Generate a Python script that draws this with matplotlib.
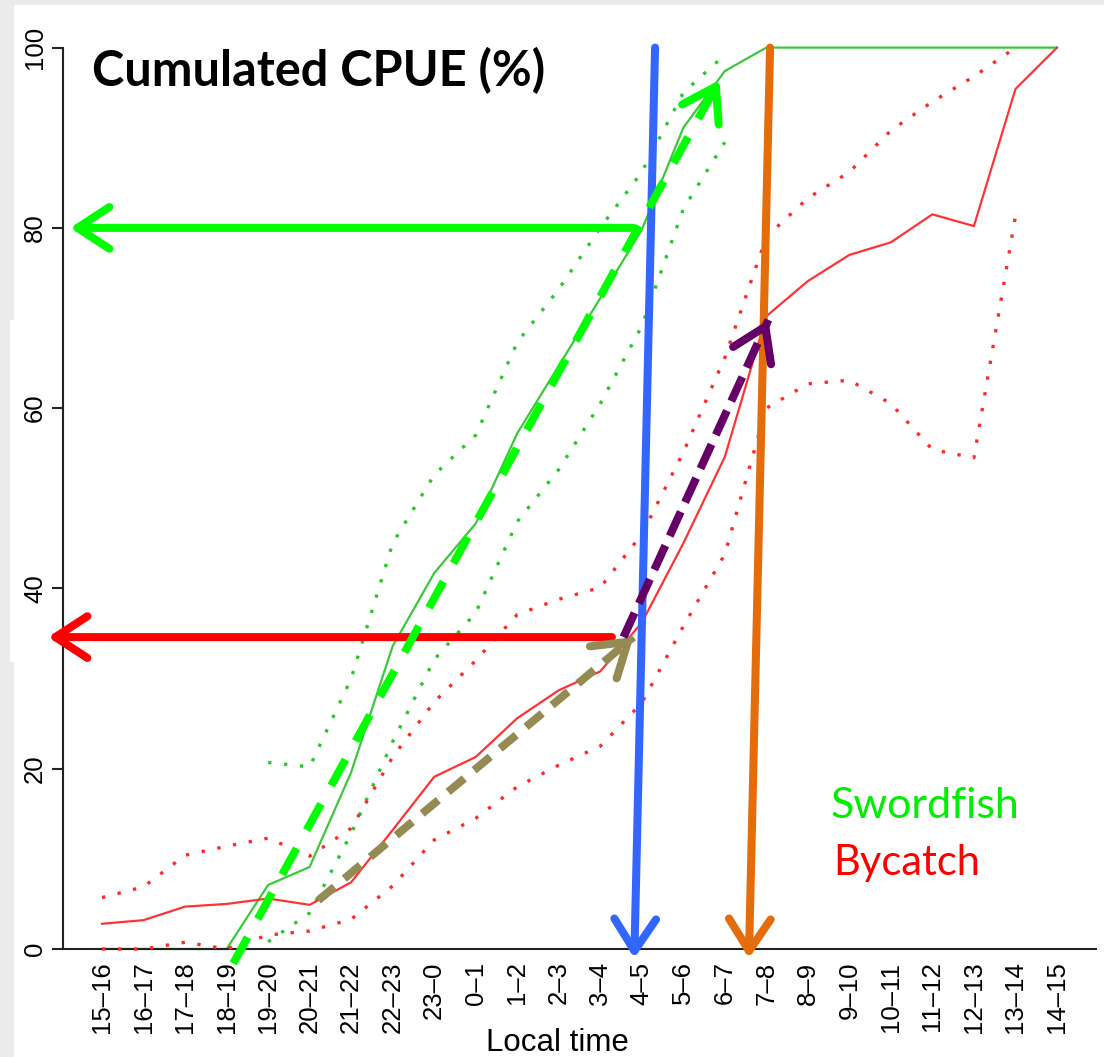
import numpy as np
import matplotlib.pyplot as plt
from matplotlib.patches import FancyArrowPatch, Rectangle

nan = np.nan

# hour classes on the x axis
time_labels = ['15–16', '16–17', '17–18', '18–19', '19–20', '20–21', '21–22', '22–23',
               '23–0', '0–1', '1–2', '2–3', '3–4', '4–5', '5–6', '6–7', '7–8', '8–9',
               '9–10', '10–11', '11–12', '12–13', '13–14', '14–15']

# cumulated CPUE (%) - swordfish, with its confidence band
swordfish = [0, 0, 0, 0, 7.1, 9.1, 19.6, 33.6, 41.7, 47.2, 57.2, 64.7, 72.2, 79.8,
             91.1, 97.4, 100, 100, 100, 100, 100, 100, 100, 100]
sword_hi = [nan, nan, nan, nan, 20.7, 20.2, 30.0, 45.0, 52.6, 57.0, 67.3, 73.2, 80.0,
            86.2, 95.0, 99.2, nan, nan, nan, nan, nan, nan, nan, nan]
sword_lo = [nan, nan, nan, nan, 0.8, 4.0, 12.8, 23.0, 32.1, 37.3, 47.4, 53.2, 60.5,
            69.1, 82.1, 89.5, nan, nan, nan, nan, nan, nan, nan, nan]

# cumulated CPUE (%) - bycatch, with its confidence band
bycatch = [2.8, 3.2, 4.7, 5.0, 5.6, 4.9, 7.4, 13.2, 19.1, 21.3, 25.6, 28.7, 30.8, 36.2,
           45.0, 54.6, 70.2, 74.1, 77.0, 78.4, 81.5, 80.2, 95.4, 100]
by_hi = [5.7, 6.9, 10.4, 11.4, 12.3, 10.3, 13.4, 21.3, 27.4, 32.0, 37.1, 38.8, 40.1, 46.0,
         55.1, 65.6, 79.0, 83.3, 86.2, 90.8, 94.0, 96.8, 100, nan]
by_lo = [0, 0, 0.75, 0, 1.55, 2.0, 3.3, 7.0, 12.1, 14.5, 18.0, 20.4, 22.5, 27.3,
         35.8, 43.8, 60.0, 62.7, 63.1, 60.5, 55.4, 54.5, 81.3, nan]

# hand drawn annotation arrows: (start, tip, colour, dashes)
arrows = [
    ((12.79, 80.0), (-0.77, 80.0), '#00FF00', None),
    ((12.28, 34.6), (-1.30, 34.6), '#FF0000', None),
    ((13.32, 100.0), (12.82, -1.03), '#3366FF', None),
    ((16.09, 100.0), (15.58, -1.03), '#E46C0A', None),
    ((3.16, -1.6), (14.87, 96.4), '#00FF00', (3.7, 2.6)),
    ((5.21, 5.4), (12.80, 34.6), '#948A54', (2.6, 1.6)),
    ((12.56, 34.6), (16.05, 69.8), '#660066', (3.3, 1.3)),
]

W, H = 1104, 1057
fig = plt.figure(figsize=(W / 100, H / 100), dpi=100, facecolor='#EBEBEB')
fig.patches.append(Rectangle((14 / W, 0), 1 - 14 / W, (H - 5) / H, transform=fig.transFigure,
                             facecolor='white', edgecolor='none', zorder=-5))
fig.patches.append(Rectangle((10 / W, (H - 662) / H), 6 / W, (662 - 320) / H,
                             transform=fig.transFigure, facecolor='white',
                             edgecolor='none', zorder=-5))

ax = fig.add_axes([63 / W, 108 / H, (1096 - 63) / W, (949 - 47.6) / H])
ax.set_facecolor('none')

x = np.arange(len(time_labels))
dots = (0, (1, 3.8))
ax.plot(x, sword_hi, color='#2BC82B', lw=2.4, linestyle=dots, zorder=2)
ax.plot(x, sword_lo, color='#2BC82B', lw=2.4, linestyle=dots, zorder=2)
ax.plot(x, by_hi, color='#FF2A2A', lw=2.4, linestyle=dots, zorder=2.6, clip_on=False)
ax.plot(x, by_lo, color='#FF2A2A', lw=2.4, linestyle=dots, zorder=2.6, clip_on=False)
ax.plot(x, bycatch, color='#FF3333', lw=1.6, zorder=3, clip_on=False)
ax.plot(x, swordfish, color='#3CC83C', lw=1.6, zorder=2.4, clip_on=False)

ax.set_xlim(-0.94, 23.94)
ax.set_ylim(0, 100)
for s in ['top', 'right']:
    ax.spines[s].set_visible(False)
for s in ['left', 'bottom']:
    ax.spines[s].set_linewidth(1.5)
    ax.spines[s].set_color('#222222')

tickfont = dict(family='Liberation Sans', size=18.5)
ax.set_xticks(x)
ax.set_xticklabels(time_labels, rotation=90, **tickfont)
ax.tick_params(axis='x', length=0, pad=9)
ax.set_yticks([0, 20, 40, 60, 80, 100])
ax.set_yticklabels(['0', '20', '40', '60', '80', '100'], rotation=90, va='center', **tickfont)
ax.tick_params(axis='y', length=8, width=1.5, pad=3.5, color='#222222')
ax.set_xlabel('Local time', family='Liberation Sans', size=22.5)
ax.xaxis.set_label_coords(0.479, -0.088)

style = '->,head_length=23,head_width=15'
for (x0, y0), (x1, y1), col, dash in arrows:
    if dash is None:
        a = FancyArrowPatch((x0, y0), (x1, y1), arrowstyle=style, mutation_scale=1,
                            lw=5.8, color=col, shrinkA=0, shrinkB=0, capstyle='round',
                            joinstyle='round', clip_on=False, zorder=5)
        ax.add_patch(a)
    else:
        ax.plot([x0, x1], [y0, y1], color=col, lw=5.8, dashes=dash,
                solid_capstyle='butt', dash_capstyle='butt', clip_on=False, zorder=6)
        px, py = x1 - 0.03 * (x1 - x0), y1 - 0.03 * (y1 - y0)
        a = FancyArrowPatch((px, py), (x1, y1), arrowstyle=style, mutation_scale=1,
                            lw=5.8, color=col, shrinkA=0, shrinkB=0, capstyle='round',
                            joinstyle='round', clip_on=False, zorder=6)
        ax.add_patch(a)

fig.text(92 / W, (H - 86) / H, 'Cumulated CPUE (%)', family='Lato', weight='bold',
         size=35, color='black', va='baseline')
fig.text(831 / W, (H - 818) / H, 'Swordfish', family='Lato', size=31,
         color='#00EE00', va='baseline')
fig.text(833 / W, (H - 875) / H, 'Bycatch', family='Lato', size=30,
         color='#FF0000', va='baseline')

fig.savefig('out.png', dpi=100, facecolor=fig.get_facecolor())
